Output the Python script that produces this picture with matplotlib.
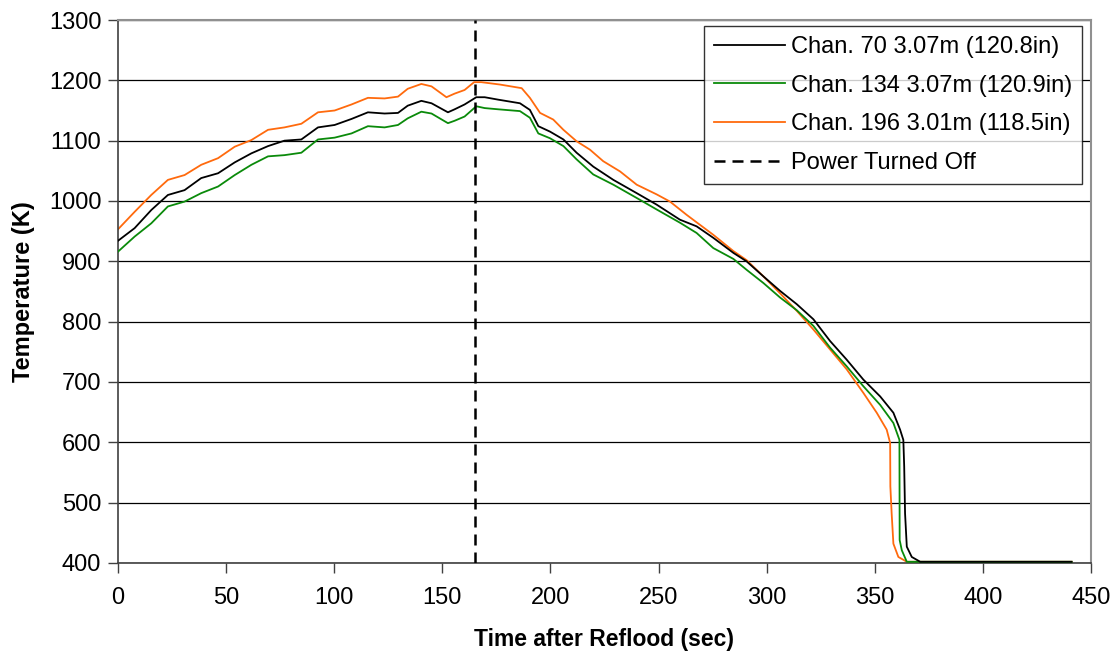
import matplotlib
matplotlib.use("Agg")
import matplotlib.pyplot as plt

plt.rcParams['font.family'] = ['Liberation Sans', 'DejaVu Sans']

# Channel 70, 3.07 m
t70 = [0, 7.7, 15.4, 23.1, 30.8, 38.5, 46.3, 54, 61.7, 69.4, 77, 84.8, 92.5,
       100.2, 108, 115.6, 123.3, 129.5, 134, 140.3, 145, 152.6, 155.7, 160.3,
       165.7, 169.6, 175.8, 185.9, 190.5, 194.4, 199.8, 206, 212.1, 219.8,
       229.1, 239.9, 249.1, 259.9, 267.6, 275.3, 284.6, 290.7, 298.5, 306.2,
       313.9, 321.6, 329.3, 337, 344.7, 352.5, 358.6, 361.7, 363.2, 363.6,
       364, 364.8, 367.1, 371, 441]
T70 = [934, 955, 985, 1010, 1018, 1038, 1046, 1064, 1079, 1091, 1100, 1102,
       1122, 1126, 1136, 1147, 1145, 1146, 1158, 1166, 1162, 1147, 1152, 1160,
       1172, 1172, 1168, 1162, 1151, 1124, 1115, 1102, 1080, 1057, 1035, 1013,
       994, 969, 958, 939, 914, 900, 875, 851, 829, 804, 768, 737, 704, 676,
       649, 621, 604, 560, 482, 427, 410, 402, 402]

# Channel 134, 3.07 m
t134 = [0, 7.7, 15.4, 23.1, 30.8, 38.5, 46.3, 54, 61.7, 69.4, 77, 84.8, 92.5,
        100.2, 108, 115.6, 123.3, 129.5, 134, 140.3, 145, 152.6, 155.7, 160.3,
        165.7, 169.6, 175.8, 185.9, 190.5, 194.4, 199.8, 206, 212.1, 219.8,
        229.1, 239.9, 249.1, 259.9, 267.6, 275.3, 284.6, 290.7, 298.5, 306.2,
        313.9, 321.6, 329.3, 337, 344.7, 352.5, 358.6, 361.4, 361.5, 362.5,
        364.8, 441]
T134 = [916, 941, 963, 991, 999, 1013, 1024, 1043, 1060, 1074, 1076, 1080,
        1102, 1105, 1112, 1124, 1122, 1126, 1137, 1148, 1145, 1129, 1133, 1140,
        1157, 1154, 1152, 1149, 1138, 1112, 1104, 1091, 1069, 1044, 1027, 1005,
        986, 964, 947, 922, 904, 886, 864, 840, 819, 793, 757, 726, 693, 662,
        632, 604, 438, 421, 402, 402]

# Channel 196, 3.01 m
t196 = [0, 7.7, 15.4, 23.1, 30.8, 38.5, 46.3, 54, 61.7, 69.4, 77, 84.8, 92.5,
        100.2, 108, 115.6, 123.3, 129.5, 134, 140.3, 145, 151.9, 155.7, 160.3,
        164.7, 168, 176.7, 186.7, 190.5, 195.2, 201.3, 206, 212.1, 218.3,
        224.4, 232.2, 239.9, 249.1, 255.3, 263, 275.3, 284.6, 290.7, 298.5,
        306.2, 313.9, 321.6, 329.3, 337, 344.7, 350.9, 355.5, 357.1, 357.2,
        357.8, 358.6, 360.9, 364.8, 441]
T196 = [953, 982, 1010, 1035, 1043, 1060, 1071, 1090, 1101, 1118, 1122, 1128,
        1147, 1150, 1160, 1171, 1170, 1173, 1186, 1194, 1190, 1172, 1178, 1184,
        1197, 1197, 1193, 1187, 1171, 1146, 1135, 1118, 1099, 1085, 1066, 1049,
        1027, 1011, 999, 977, 944, 917, 902, 875, 847, 818, 787, 754, 721, 682,
        649, 621, 599, 527, 482, 432, 410, 402, 402]

power_off = 165
xticks = list(range(0, 451, 50))
yticks = list(range(400, 1301, 100))

fig = plt.figure(figsize=(11.15, 6.58), dpi=100)
ax = fig.add_axes([0.1058, 0.1444, 0.8727, 0.8252])

ax.plot(t70, T70, color='black', lw=1.3, label='Chan. 70 3.07m (120.8in)', zorder=4)
ax.plot(t134, T134, color='#0a8a0a', lw=1.3, label='Chan. 134 3.07m (120.9in)', zorder=3)
ax.plot(t196, T196, color='#ff6a0d', lw=1.3, label='Chan. 196 3.01m (118.5in)', zorder=2)
ax.axvline(power_off, color='black', lw=1.8, ls=(0, (4.4, 2.8)), label='Power Turned Off', zorder=5)

ax.set_xlim(0, 450)
ax.set_ylim(400, 1300)
ax.set_xticks(xticks)
ax.set_yticks(yticks)
ax.yaxis.grid(True, color='black', lw=0.9)
ax.set_axisbelow(True)

fs = 17
ax.tick_params(axis='both', direction='out', length=7, width=1, labelsize=fs,
               color='#404040', pad=5)
ax.tick_params(axis='x', pad=10)
for side in ['left', 'bottom']:
    ax.spines[side].set_color('#404040')
    ax.spines[side].set_linewidth(1.2)
for side in ['right', 'top']:
    ax.spines[side].set_color('#909090')
    ax.spines[side].set_linewidth(1.5)

ax.set_xlabel('Time after Reflood (sec)', fontsize=16.5, fontweight='bold', labelpad=14)
ax.set_ylabel('Temperature (K)', fontsize=fs, fontweight='bold', labelpad=10)

leg = ax.legend(loc='upper right', bbox_to_anchor=(0.9908, 0.9884), fontsize=fs,
                frameon=True, fancybox=False, handlelength=3.0, handletextpad=0.25,
                borderpad=0.42, labelspacing=0.7, borderaxespad=0)
leg.get_frame().set_edgecolor('black')
leg.get_frame().set_linewidth(1.0)

fig.savefig('out.png', dpi=100)
